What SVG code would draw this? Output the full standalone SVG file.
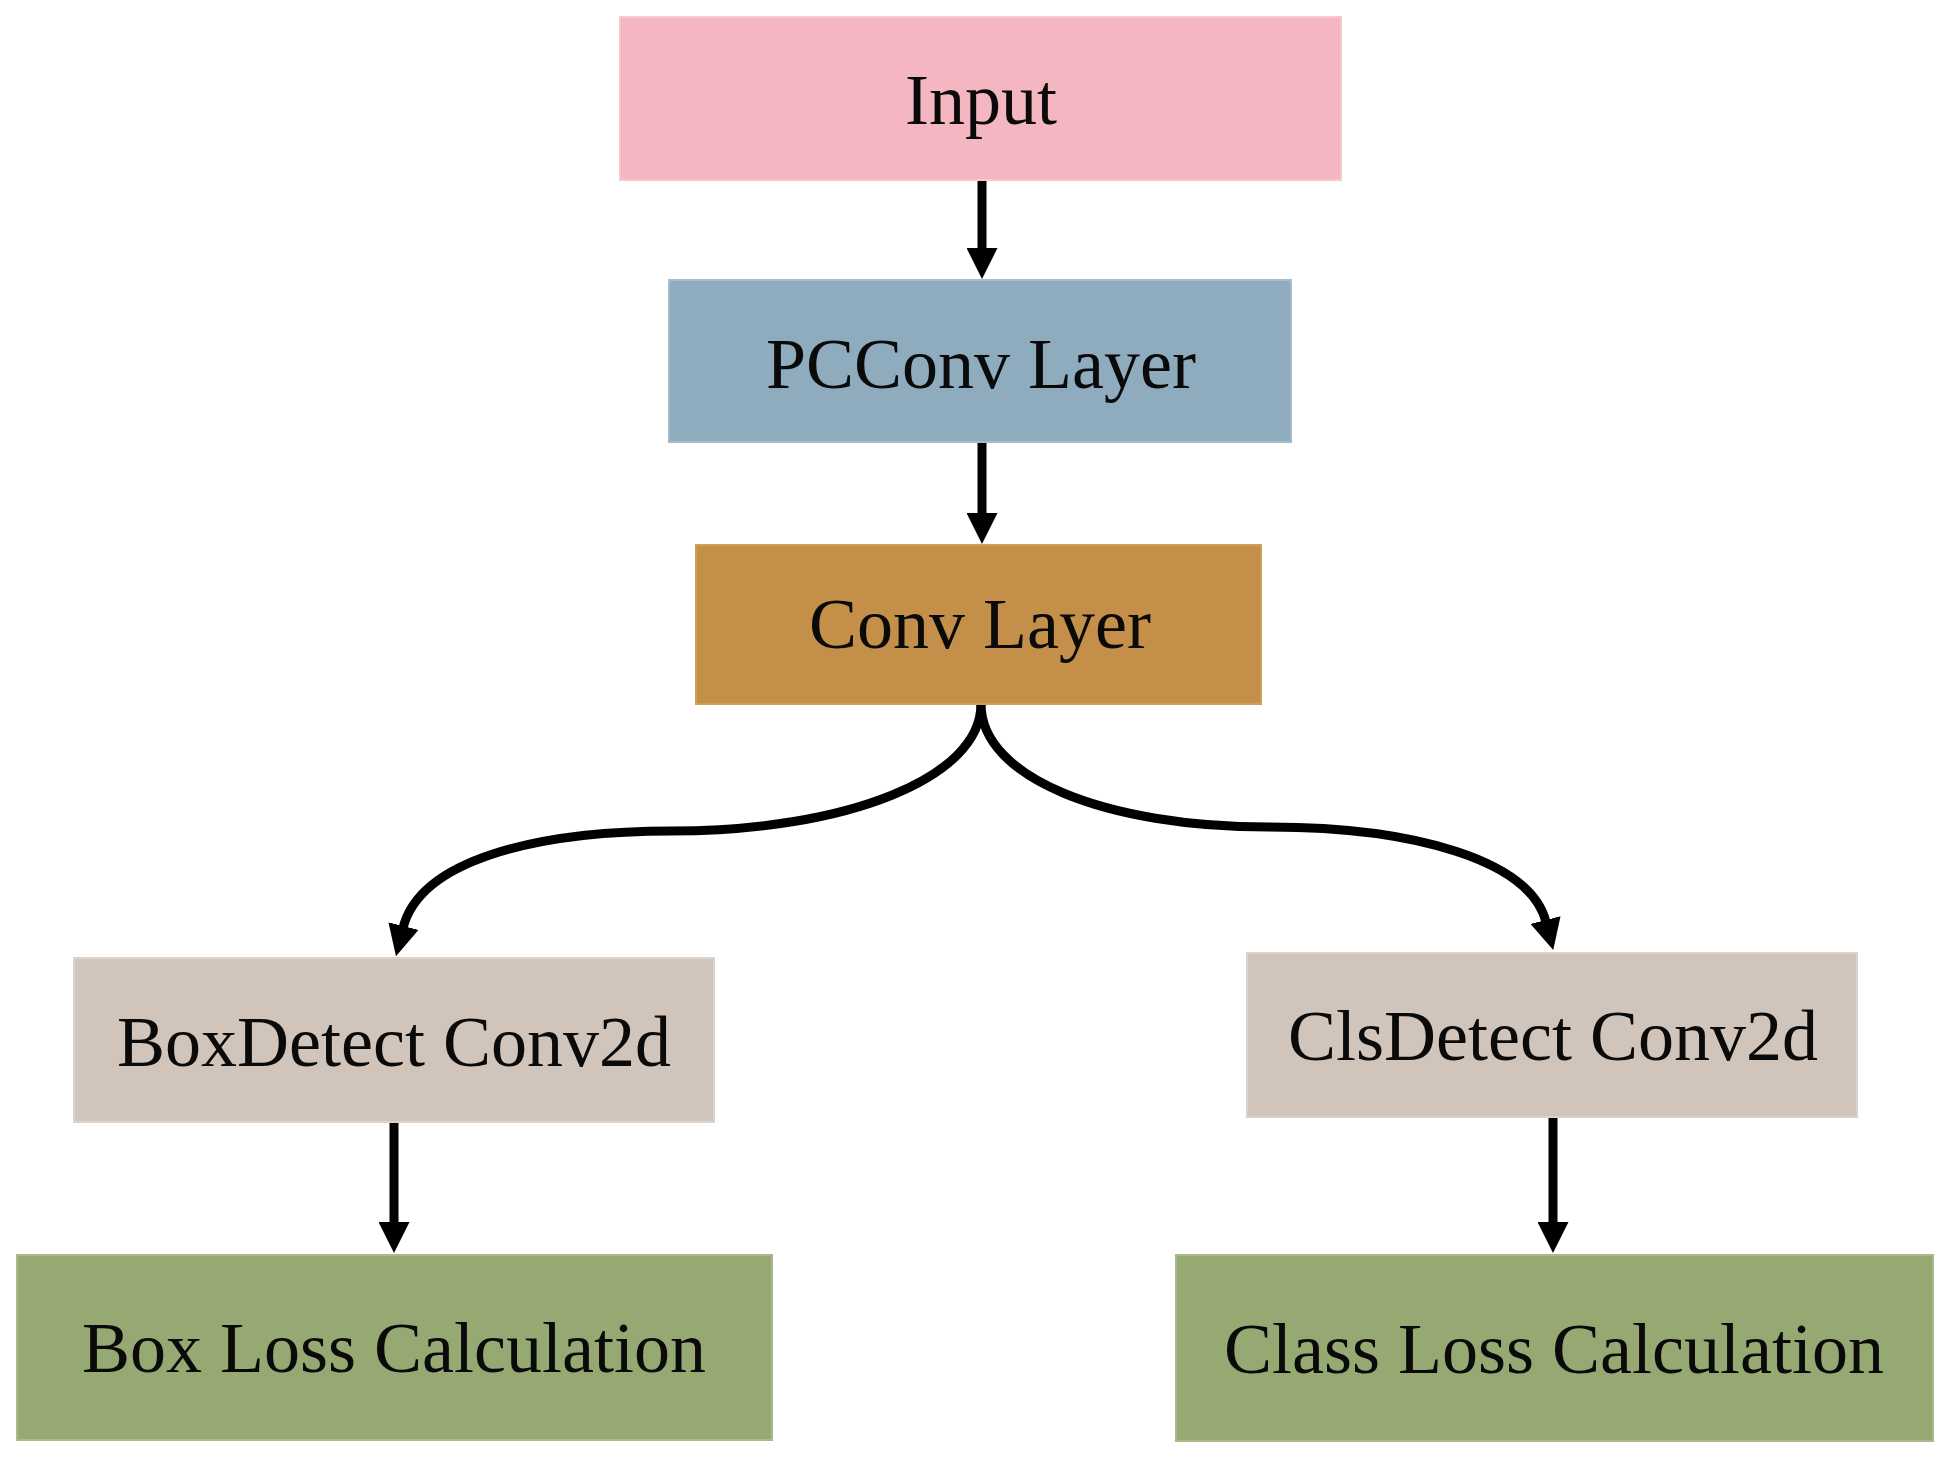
<svg xmlns="http://www.w3.org/2000/svg" width="1951" height="1462" viewBox="0 0 1951 1462">
<style>
.t{font-family:"Liberation Serif","Times New Roman",serif;font-size:72px;fill:#0a0a0a;text-anchor:middle}
.c{fill:none;stroke:#000;stroke-width:9}
</style>
<defs>
<marker id="ah" viewBox="0 0 31 31" refX="2" refY="15.5" markerWidth="31" markerHeight="31" markerUnits="userSpaceOnUse" orient="auto">
<path d="M0,0 L31,15.5 L0,31 Z" fill="#000"/>
</marker>
</defs>
<rect width="1951" height="1462" fill="#fff"/>
<g id="connectors">
<path class="c" d="M982,180 V250" marker-end="url(#ah)"/>
<path class="c" d="M982,442 V515" marker-end="url(#ah)"/>
<path class="c" d="M981,704 C981,778 846,831 672,831 C536,831 420,860 403,928" marker-end="url(#ah)"/>
<path class="c" d="M981,704 C981,778 1106,827 1269,827 C1414,827 1530,860 1546,922" marker-end="url(#ah)"/>
<path class="c" d="M394,1122 V1224" marker-end="url(#ah)"/>
<path class="c" d="M1553,1117 V1224" marker-end="url(#ah)"/>
</g>
<g id="input">
<rect x="620" y="17" width="721" height="163" fill="#F4B6C0" stroke="#F7C7CF" stroke-width="2"/>
<text class="t" x="981" y="124">Input</text>
</g>
<g id="pcconv">
<rect x="669" y="280" width="622" height="162" fill="#8FABBE" stroke="#A5BCCB" stroke-width="2"/>
<text class="t" x="981" y="388">PCConv Layer</text>
</g>
<g id="conv">
<rect x="696" y="545" width="565" height="159" fill="#C48F48" stroke="#D19E5A" stroke-width="2"/>
<text class="t" x="980" y="648">Conv Layer</text>
</g>
<g id="boxdetect">
<rect x="74" y="958" width="640" height="164" fill="#D1C4BA" stroke="#DDD2CA" stroke-width="2"/>
<text class="t" x="394" y="1066">BoxDetect Conv2d</text>
</g>
<g id="clsdetect">
<rect x="1247" y="953" width="610" height="164" fill="#D1C4BA" stroke="#DDD2CA" stroke-width="2"/>
<text class="t" x="1553" y="1060">ClsDetect Conv2d</text>
</g>
<g id="boxloss">
<rect x="17" y="1255" width="755" height="185" fill="#97A973" stroke="#A9B98A" stroke-width="2"/>
<text class="t" x="394" y="1372">Box Loss Calculation</text>
</g>
<g id="classloss">
<rect x="1176" y="1255" width="757" height="186" fill="#97A973" stroke="#A9B98A" stroke-width="2"/>
<text class="t" x="1554" y="1373">Class Loss Calculation</text>
</g>
</svg>
